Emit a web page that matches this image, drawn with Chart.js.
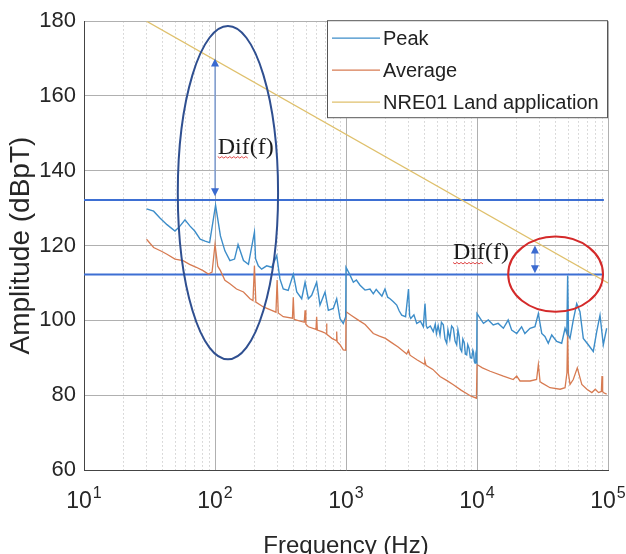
<!DOCTYPE html>
<html>
<head>
<meta charset="utf-8">
<script src="https://cdn.jsdelivr.net/npm/chart.js@4.4.0/dist/chart.umd.min.js"></script>
<style>
  body { margin: 0; background: #fff; }
  #wrap { width: 626px; height: 554px; }
</style>
</head>
<body>
<div id="wrap"><canvas id="emiChart" width="626" height="554"></canvas></div>
<script>
const peakFreq = [30, 34, 38, 43, 49.5, 54, 59, 64.5, 70, 77, 84, 91, 101, 110, 119, 130, 141, 150, 165, 180,
  200, 204, 214, 227, 248, 271, 296, 313, 332, 362, 396, 421, 459, 487, 516, 547, 597, 633, 692, 733, 800, 849, 900, 953, 995,
  1000, 1060, 1138, 1200, 1280, 1397, 1525, 1616, 1700, 1765, 1880, 1985, 2080, 2168, 2300, 2438, 2550, 2662, 2850, 3000,
  3060, 3120, 3300, 3467, 3700, 3892, 4009, 4100, 4176,
  4400, 4636, 4800, 4900, 5050, 5219, 5350, 5534, 5700, 5870, 6000, 6200, 6400, 6597, 6800, 6998, 7150,
  7300, 7450, 7642, 7800, 8000, 8150, 8340, 8500, 8700, 8900, 9116, 9300, 9400, 9550, 9656, 9800, 9950,
  10000, 11200, 12200, 13300, 14500, 15900, 17300, 18400, 20100, 21900, 23200, 25400, 27700, 29400, 31200, 33000, 35000,
  37200, 40600, 44300, 47000, 48500, 49200, 50000, 51300, 54300, 57700, 61100, 64800, 70700, 77200, 82000, 86900, 92100, 97700];
const peakDb = [129.8, 129.2, 127.4, 125.6, 123.9, 125.2, 126.9, 125.2, 123.9, 121.7, 121.2, 120.8, 130.8, 122.6, 118.6, 116, 116.4, 120.3, 116, 115,
  123.6, 116.5, 114.6, 113.7, 114.6, 114.2, 117.3, 111.1, 108.4, 108, 112.4, 107.6, 105.8, 110.2, 105.8, 106.7, 110.2, 104.1, 107.6, 102.7, 103.2, 105.8, 100.5, 99.2, 101,
  114.2, 112.5, 110.2, 110.8, 109.4, 108.1, 108.4, 107.1, 108.3, 107.6, 106.5, 108.4, 106.2, 105.8, 105, 104.1, 102.5, 101.4, 101, 108.4,
  101.2, 100.5, 101.5, 99.2, 99.8, 98.3, 104.5, 98.6, 97.9,
  98.5, 97, 99, 96.5, 98.6, 96.1, 99.5, 98.8, 95, 93.9, 97.5, 95, 98.5, 97.9, 94.5, 93.5, 97.5,
  95.8, 92.5, 91.7, 95, 94, 91, 90.8, 93.5, 92.5, 90, 89.9, 92, 91.5, 89, 88.6, 90.5, 89.4,
  101.8, 99.2, 100.1, 98.8, 99.2, 97.9, 100.1, 97.4, 96.5, 98.3, 96.5, 97.9, 98.3, 101.8, 96.5, 95.7, 93.9,
  96.1, 94.4, 93.9, 97.9, 96.5, 112, 96, 95.2, 100.1, 104.5, 102.3, 95.2, 93.5, 91.7, 97, 101.4, 93.5, 97.9];

const avgFreq = [30, 34, 39, 43, 49.5, 57, 64, 72, 81, 89, 95, 100, 105, 110, 119, 130, 146, 165, 185, 195,
  200, 205, 234, 271, 292, 298, 304, 332, 390, 396, 402, 420, 480, 487, 494, 516, 590, 597, 604, 654, 704, 710, 716,
  780, 843, 849, 855, 900, 953, 995,
  1000, 1100, 1250, 1400, 1616, 1800, 2000, 2200, 2500, 2906, 3000, 3080, 3500, 3950, 4000, 4080, 4600, 5219, 5900,
  6600, 7600, 8950, 9900,
  10000, 11000, 12600, 15900, 18900, 20100, 21300, 25400, 28500, 29400, 30300, 31200, 36100, 43100, 47000, 48600,
  49200, 49800, 51300, 54300, 58300, 63100, 69000, 75300, 80000, 84700, 89000, 90000, 91000, 92100, 97700];
const avgDb = [121.7, 119.5, 118.5, 117.7, 116.4, 116, 115, 114.2, 113.3, 112.4, 112.9, 120.3, 114.5, 113.3, 110.7, 109.8, 108.4, 107.6, 105.8, 105.3,
  114.6, 104.9, 103.6, 102.7, 102.2, 110.8, 102, 101, 100.6, 106.2, 100.3, 100.1, 99.5, 102.7, 99, 98.3, 97.6, 101, 97.4, 97, 96.5, 99.2, 96.3,
  95.2, 94.6, 97, 94.3, 93.5, 92.1, 92,
  102.3, 101.3, 100, 98.9, 96.5, 95.8, 95.2, 94.2, 92.9, 91, 92, 90.7, 89.4, 88.3, 89.2, 88, 86.9, 85, 83.9,
  82.8, 81.3, 79.8, 79.2,
  88.2, 87.3, 86.4, 85.1, 84.2, 85.1, 83.8, 83.8, 84.2, 88.2, 83.6, 83.3, 82, 81.6, 82, 86,
  97.5, 86, 82.9, 84.2, 87.3, 82.9, 81.6, 80.7, 81.6, 80.7, 81, 85.1, 81, 80.7, 80.3];

// NRE01 limit and the two reference levels
const limitFreq = [30, 100000];
const limitDb = [180, 110];
const refFreq = [10, 93000];
const refHighDb = [132.2, 132.2];
const refLowDb = [112.3, 112.3];

const seriesLabels = ['Peak', 'Average', 'NRE01 Land application'];
const xDecades = [10, 100, 1000, 10000, 100000];
const xTickBase = '10';
const xTickExp = ['1', '2', '3', '4', '5'];
const yTicks = [60, 80, 100, 120, 140, 160, 180];

// annotations drawn on top (data units)
const bigEllipse = { fMin: 52, fMax: 303, dbMin: 89.6, dbMax: 178.7 };
const smallEllipse = { fMin: 17300, fMax: 91600, dbMin: 102.3, dbMax: 122.4 };
const difArrows = [{ f: 100, from: 170, to: 133.2 }, { f: 27700, from: 120, to: 112.6 }];
const difTexts = [{ f: 105, db: 144.6 }, { f: 6560, db: 116.3 }];

const peakColor = '#3d8dc9';
const avgColor = '#d77b52';
const limitColor = '#dfc06c';
const refColor = '#3d6fd3';
const fontFamily = '"Liberation Sans", Arial, sans-serif';

function toPoints(xs, ys) {
  return xs.map(function(x, i) { return { x: x, y: ys[i] }; });
}

function minorTicks() {
  var list = [];
  for (var d = 0; d < xDecades.length - 1; d++) {
    for (var m = 1; m < 10; m++) {
      list.push({ value: xDecades[d] * m, major: m === 1 });
    }
  }
  list.push({ value: xDecades[xDecades.length - 1], major: true });
  return list;
}

// exponents of the 10^n tick labels
const exponentPlugin = {
  id: 'tickExponents',
  afterDraw: function(chart) {
    var c = chart.ctx;
    var xs = chart.scales.x;
    c.save();
    c.font = '23px ' + fontFamily;
    var baseW = c.measureText(xTickBase).width;
    c.font = '16px ' + fontFamily;
    c.fillStyle = '#262626';
    c.textBaseline = 'alphabetic';
    c.textAlign = 'left';
    xDecades.forEach(function(v, i) {
      var x = xs.getPixelForValue(v) - 5 + baseW / 2 + 1;
      c.fillText(xTickExp[i], x, xs.top + 28);
    });
    c.restore();
  }
};

const annotationPlugin = {
  id: 'difAnnotations',
  afterDatasetsDraw: function(chart) {
    var c = chart.ctx;
    var xs = chart.scales.x, ys = chart.scales.y;

    function drawEllipse(e, color) {
      var x1 = xs.getPixelForValue(e.fMin), x2 = xs.getPixelForValue(e.fMax);
      var y1 = ys.getPixelForValue(e.dbMax), y2 = ys.getPixelForValue(e.dbMin);
      c.save();
      c.beginPath();
      c.ellipse((x1 + x2) / 2, (y1 + y2) / 2, (x2 - x1) / 2, (y2 - y1) / 2, 0, 0, Math.PI * 2);
      c.strokeStyle = color;
      c.lineWidth = 2;
      c.stroke();
      c.restore();
    }
    drawEllipse(bigEllipse, '#2f4f90');
    drawEllipse(smallEllipse, '#d42a2a');

    difArrows.forEach(function(a) {
      var x = xs.getPixelForValue(a.f);
      var yTop = ys.getPixelForValue(a.from), yBot = ys.getPixelForValue(a.to);
      c.save();
      c.strokeStyle = '#7096d8';
      c.lineWidth = 1.2;
      c.beginPath();
      c.moveTo(x, yTop + 6);
      c.lineTo(x, yBot - 6);
      c.stroke();
      c.fillStyle = '#3a6ad0';
      c.beginPath();
      c.moveTo(x, yTop); c.lineTo(x - 4, yTop + 8); c.lineTo(x + 4, yTop + 8); c.closePath();
      c.fill();
      c.beginPath();
      c.moveTo(x, yBot); c.lineTo(x - 4, yBot - 8); c.lineTo(x + 4, yBot - 8); c.closePath();
      c.fill();
      c.restore();
    });

    difTexts.forEach(function(t) {
      var x = xs.getPixelForValue(t.f), y = ys.getPixelForValue(t.db);
      c.save();
      c.font = '24px "Liberation Serif", "Times New Roman", serif';
      c.fillStyle = '#1a1a1a';
      c.textBaseline = 'alphabetic';
      c.fillText('Dif(f)', x, y);
      var w = c.measureText('Dif').width;
      // red squiggle under "Dif"
      c.strokeStyle = '#e04848';
      c.lineWidth = 1;
      c.beginPath();
      for (var i = 0; i <= w; i += 2) {
        var yy = y + 3 + ((i / 2) % 2 === 0 ? 0 : 1.5);
        if (i === 0) c.moveTo(x + i, yy); else c.lineTo(x + i, yy);
      }
      c.stroke();
      c.restore();
    });
  }
};

const legendBoxPlugin = {
  id: 'legendBox',
  afterDraw: function(chart) {
    var c = chart.ctx;
    var area = chart.chartArea;
    var w = 281, h = 98;
    var x0 = area.right - w, y0 = area.top - 1;
    c.save();
    c.fillStyle = '#fff';
    c.fillRect(x0, y0, w, h);
    c.strokeStyle = '#555';
    c.lineWidth = 1;
    c.strokeRect(x0 + 0.5, y0 + 0.5, w - 1, h - 1);
    c.font = '20px ' + fontFamily;
    c.textBaseline = 'middle';
    c.fillStyle = '#222';
    var items = chart.data.datasets.filter(function(d) { return d.inLegend; });
    items.forEach(function(d, i) {
      var y = y0 + 18 + i * 32;
      c.strokeStyle = d.borderColor;
      c.lineWidth = 1.3;
      c.beginPath();
      c.moveTo(x0 + 5, y);
      c.lineTo(x0 + 53, y);
      c.stroke();
      c.fillText(d.label, x0 + 56, y + 1);
    });
    c.restore();
  }
};

const ctx = document.getElementById('emiChart');

new Chart(ctx, {
  type: 'scatter',
  data: {
    datasets: [
      { label: seriesLabels[0], data: toPoints(peakFreq, peakDb), borderColor: peakColor, borderWidth: 1.4, inLegend: true },
      { label: seriesLabels[1], data: toPoints(avgFreq, avgDb), borderColor: avgColor, borderWidth: 1.3, inLegend: true },
      { label: seriesLabels[2], data: toPoints(limitFreq, limitDb), borderColor: limitColor, borderWidth: 1.3, inLegend: true },
      { label: 'ref high', data: toPoints(refFreq, refHighDb), borderColor: refColor, borderWidth: 2 },
      { label: 'ref low', data: toPoints(refFreq, refLowDb), borderColor: refColor, borderWidth: 2 }
    ]
  },
  options: {
    responsive: false,
    animation: false,
    devicePixelRatio: 1,
    showLine: true,
    elements: {
      point: { radius: 0, hoverRadius: 0 },
      line: { tension: 0, fill: false }
    },
    layout: { padding: { top: 16, right: 18, left: 0, bottom: 0 } },
    plugins: {
      legend: { display: false },
      tooltip: { enabled: false }
    },
    scales: {
      x: {
        type: 'logarithmic',
        min: 10,
        max: 100000,
        afterBuildTicks: function(scale) { scale.ticks = minorTicks(); },
        afterFit: function(scale) { scale.height = 84; },
        ticks: {
          autoSkip: false,
          maxRotation: 0,
          padding: 2,
          labelOffset: -5,
          color: '#262626',
          font: { family: fontFamily, size: 23 },
          callback: function(value) {
            return xDecades.indexOf(value) >= 0 ? xTickBase : '';
          }
        },
        grid: {
          drawTicks: true,
          tickLength: 16,
          tickColor: 'rgba(0,0,0,0)',
          color: function(c) { return c.tick && c.tick.major ? '#b0b0b0' : '#cfcfcf'; },
          lineWidth: 1
        },
        border: {
          color: '#444',
          width: 1,
          dash: function(c) { return c.tick && !c.tick.major ? [1.5, 2.5] : []; }
        },
        title: {
          display: true,
          text: 'Frequency (Hz)',
          color: '#262626',
          font: { family: fontFamily, size: 24 },
          padding: { top: 0, bottom: -7 }
        }
      },
      y: {
        min: 60,
        max: 180,
        afterBuildTicks: function(scale) { scale.ticks = yTicks.map(function(v) { return { value: v }; }); },
        afterFit: function(scale) { scale.width = 84; },
        ticks: {
          padding: 8,
          color: '#262626',
          font: { family: fontFamily, size: 22 }
        },
        grid: { drawTicks: false, color: '#b0b0b0', lineWidth: 1 },
        border: { color: '#444', width: 1 },
        title: {
          display: true,
          text: 'Amplitude (dBpT)',
          color: '#262626',
          font: { family: fontFamily, size: 28 },
          padding: { top: 4, bottom: 0 }
        }
      }
    }
  },
  plugins: [annotationPlugin, legendBoxPlugin, exponentPlugin]
});
</script>
</body>
</html>
